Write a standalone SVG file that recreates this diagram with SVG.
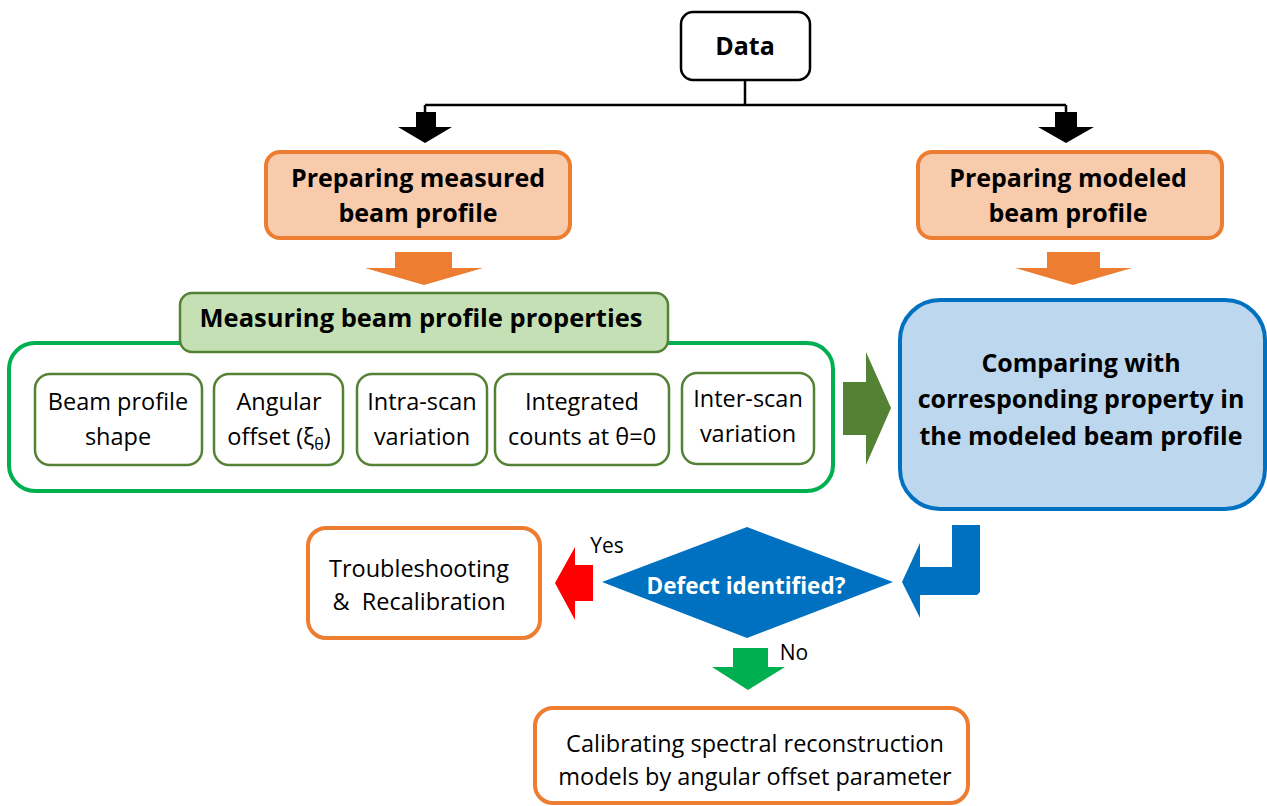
<svg xmlns="http://www.w3.org/2000/svg" width="1267" height="806" viewBox="0 0 1267 806">
<style>
text{font-family:"Open Sans","Noto Sans","Liberation Sans",sans-serif;fill:#000;text-anchor:middle}
.b{font-weight:bold;font-size:25px}
.r{font-size:23.5px}
.lbl{font-size:21px}
.orange{fill:#f8cbad;stroke:#ed7d31;stroke-width:4}
.white-o{fill:#fff;stroke:#ed7d31;stroke-width:4}
.inner{fill:#fff;stroke:#548235;stroke-width:2.5}
</style>
<rect width="1267" height="806" fill="#fff"/>
<g id="connectors">
  <path d="M745 80V105M425 105H1066M425 105V112M1066 105V112" fill="none" stroke="#000" stroke-width="2.5"/>
  <polygon points="416,112 436,112 436,127 452,127 425,143 398,127 416,127" fill="#000"/>
  <polygon points="1055,112 1077,112 1077,127 1094,127 1066,143 1038,127 1055,127" fill="#000"/>
  <polygon points="395,252 452,252 452,268 483,268 424,285 365,268 395,268" fill="#ed7d31"/>
  <polygon points="1047,252 1100,252 1100,268 1132,268 1073,285 1015,268 1047,268" fill="#ed7d31"/>
  <polygon points="843,382 866,382 866,352 891,408 866,465 866,435 843,435" fill="#548235"/>
  <polygon points="952,525 980,525 980,592 977,595 920,595 920,618 902,582 920,543 920,567 952,567" fill="#0070c0"/>
  <polygon points="593,565 593,601 575,601 575,620 555,583 575,547 575,565" fill="#ff0000"/>
  <polygon points="733,648 768,648 768,667 785,667 748,690 712,667 733,667" fill="#00b050"/>
  <text class="lbl" x="607" y="553">Yes</text>
  <text class="lbl" x="794" y="660">No</text>
</g>
<g id="data">
  <rect x="681" y="12" width="129" height="68" rx="12" fill="#fff" stroke="#000" stroke-width="2.5"/>
  <text class="b" x="745" y="55">Data</text>
</g>
<g id="prep-measured">
  <rect class="orange" x="266" y="152" width="304" height="86" rx="14"/>
  <text class="b" x="418" y="187">Preparing measured</text>
  <text class="b" x="418" y="222">beam profile</text>
</g>
<g id="prep-modeled">
  <rect class="orange" x="918" y="152" width="304" height="86" rx="14"/>
  <text class="b" x="1068" y="187">Preparing modeled</text>
  <text class="b" x="1068" y="222">beam profile</text>
</g>
<g id="measuring">
  <rect x="9" y="343" width="824" height="148" rx="26" fill="#fff" stroke="#00b050" stroke-width="4"/>
  <rect x="180" y="293" width="488" height="59" rx="12" fill="#c5e0b4" stroke="#548235" stroke-width="2.5"/>
  <text class="b" x="421" y="327" style="font-size:25.5px">Measuring beam profile properties</text>
</g>
<g id="shape">
  <rect class="inner" x="35" y="374" width="167" height="91" rx="15"/>
  <text class="r" x="118" y="410">Beam profile</text>
  <text class="r" x="118" y="445">shape</text>
</g>
<g id="offset">
  <rect class="inner" x="214" y="374" width="129" height="91" rx="15"/>
  <text class="r" x="279" y="410">Angular</text>
  <text class="r" x="279" y="445">offset (ξ<tspan font-size="16" dy="5">θ</tspan><tspan dy="-5">)</tspan></text>
</g>
<g id="intra">
  <rect class="inner" x="357" y="374" width="130" height="91" rx="15"/>
  <text class="r" x="422" y="410">Intra-scan</text>
  <text class="r" x="422" y="445">variation</text>
</g>
<g id="integrated">
  <rect class="inner" x="495" y="374" width="174" height="91" rx="15"/>
  <text class="r" x="582" y="410">Integrated</text>
  <text class="r" x="582" y="445">counts at θ=0</text>
</g>
<g id="inter">
  <rect class="inner" x="682" y="373" width="132" height="91" rx="15"/>
  <text class="r" x="748" y="407">Inter-scan</text>
  <text class="r" x="748" y="442">variation</text>
</g>
<g id="comparing">
  <rect x="900" y="300" width="365" height="209" rx="40" fill="#bdd7ee" stroke="#0070c0" stroke-width="4"/>
  <text class="b" x="1081" y="372">Comparing with</text>
  <text class="b" x="1081" y="408">corresponding property in</text>
  <text class="b" x="1081" y="445">the modeled beam profile</text>
</g>
<g id="decision">
  <polygon points="747,527 893,582 747,638 602,582" fill="#0070c0"/>
  <text x="746" y="594" style="font-weight:bold;font-size:22.5px;fill:#fff">Defect identified?</text>
</g>
<g id="troubleshooting">
  <rect class="white-o" x="308" y="528" width="232" height="110" rx="18"/>
  <text class="r" x="419" y="577">Troubleshooting</text>
  <text class="r" x="419" y="610" xml:space="preserve">&amp;  Recalibration</text>
</g>
<g id="calibrating">
  <rect class="white-o" x="535" y="708" width="433" height="95" rx="18"/>
  <text class="r" x="755" y="752">Calibrating spectral reconstruction</text>
  <text class="r" x="755" y="785">models by angular offset parameter</text>
</g>
</svg>
